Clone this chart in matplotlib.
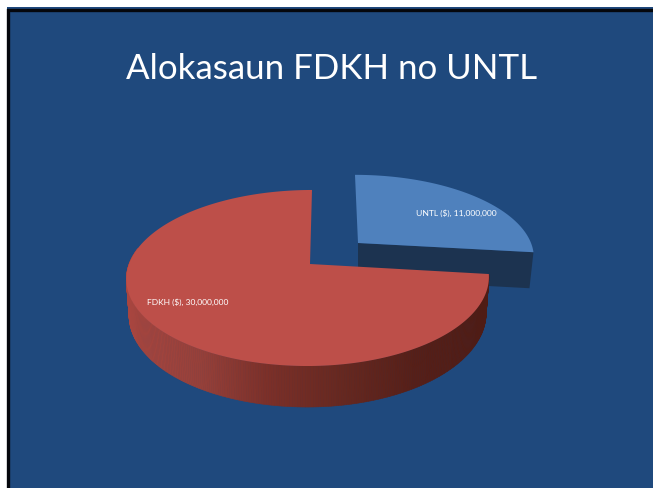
import numpy as np
import matplotlib
matplotlib.use("Agg")
import matplotlib.pyplot as plt
from matplotlib.patches import Polygon, Rectangle
from matplotlib.colors import LinearSegmentedColormap

# Data
categories = ["UNTL ($)", "FDKH ($)"]
values = [11000000, 30000000]
title = "Alokasaun FDKH no UNTL"

BG = "#1f497d"
BLUE_TOP = "#4f81bd"
BLUE_SIDE = "#1c3350"
RED_TOP = "#bd4f49"
K = 0.159

fig = plt.figure(figsize=(6.53, 4.88), dpi=100, facecolor="white")
ax = fig.add_axes([0, 0, 1, 1])
ax.set_xlim(0, 653)
ax.set_ylim(488, 0)
ax.axis("off")

ax.add_patch(Rectangle((6.5, 7), 660, 500, fc=BG, ec="none", zorder=0))
ax.add_patch(Rectangle((8, 9.5), 660, 500, fc=BG, ec="#05070c", lw=2.4, zorder=0.5))

ax.text(332, 69, title, color="white", fontsize=25.1, family=["Lato", "DejaVu Sans"],
        ha="center", va="center", zorder=10)


def project(theta, cx, cy, bx_right, bx_left, ay, skew=0.0):
    """Perspective projection of a pie rim point (theta clockwise from 12 o'clock)."""
    X = np.sin(theta)
    d = -np.cos(theta)
    w = 1 - K * d
    y = cy + ay * d / w
    half_width = np.where(X >= 0, bx_right, bx_left)
    return cx + half_width * X / w + skew * (y - cy), y


total = sum(values)
sweep_blue = 2 * np.pi * values[0] / total

# Blue slice, exploded to the back right
bc = (358, 243, 173, 173, 79, 3 / 68)
tb = np.linspace(0, sweep_blue, 120)
bx, by = project(tb, *bc)
corner = (bx[-1], by[-1])
depth_b = 36
ax.add_patch(Polygon([(bc[0], bc[1]), corner, (corner[0] - 4, corner[1] + depth_b),
                      (bc[0], bc[1] + depth_b)], fc=BLUE_SIDE, ec="none", zorder=2))
ax.add_patch(Polygon(np.r_[[(bc[0], bc[1])], np.c_[bx, by]], fc=BLUE_TOP, ec="none", zorder=3))

# Red slice
rc = (310, 264, 177, 181, 85.8, -2 / 74)
tr = np.linspace(sweep_blue, 2 * np.pi, 500)
rx, ry = project(tr, *rc)

side = LinearSegmentedColormap.from_list(
    "side", ["#a8453f", "#96403a", "#7a2f28", "#662820", "#561f18", "#4f1c15"])
ts = np.linspace(sweep_blue, 1.56 * np.pi, 260)
sx, sy = project(ts, *rc)
d = -np.cos(ts)
low_x = 309 + (sx - 309) * 0.985
low_y = sy + 35 + 6 * d
for i in range(len(ts) - 1):
    frac = np.clip((sx[i] - 127) / 362, 0, 1)
    ax.add_patch(Polygon([(sx[i], sy[i]), (sx[i + 1], sy[i + 1]),
                          (low_x[i + 1], low_y[i + 1]), (low_x[i], low_y[i])],
                         fc=side(frac), ec=side(frac), lw=0.4, zorder=4))
ax.add_patch(Polygon(np.r_[[(rc[0], rc[1])], np.c_[rx, ry]], fc=RED_TOP, ec="none", zorder=5))

label_font = ["Lato", "DejaVu Sans"]
ax.text(456, 213, f"{categories[0]}, {values[0]:,}", color="white", fontsize=6.1,
        family=label_font, ha="center", va="center", zorder=10)
ax.text(188, 302, f"{categories[1]}, {values[1]:,}", color="white", fontsize=6.1,
        family=label_font, ha="center", va="center", zorder=10)

fig.savefig("out.png", dpi=100, facecolor="white")
